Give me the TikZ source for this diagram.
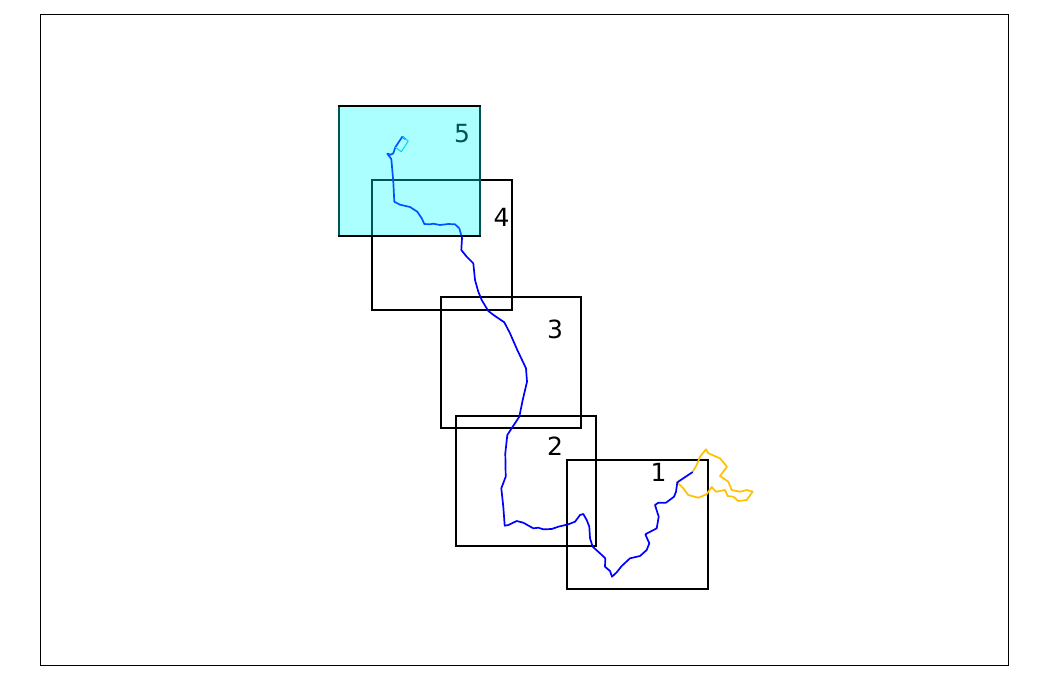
\documentclass[tikz,border=0pt]{standalone}
\usepackage{fontspec}
\setmainfont{DejaVu Sans}
\definecolor{routeblue}{RGB}{0,0,255}
\definecolor{routeyellow}{RGB}{255,192,0}
\definecolor{purecyan}{RGB}{0,255,255}
\definecolor{outlinecyan}{RGB}{0,190,255}
\tikzset{
  sheet/.style={draw=black,line width=2pt,rectangle,minimum width=#1,inner sep=0pt,outer sep=0pt},
  sheetlabel/.style={font=\fontsize{25}{25}\selectfont,text=black,inner sep=0pt},
  route/.style={line width=1.7pt,line join=round,line cap=round},
}
\begin{document}
\begin{tikzpicture}[x=1pt,y=-1pt]
\useasboundingbox (0,0) rectangle (1051,675);
\fill[white] (0,0) rectangle (1051,675);
\node[draw=black,line width=.8pt,minimum width=968.5pt,minimum height=650.5pt,inner sep=0pt,outer sep=0pt] (frame) at (524.25,339.75) {};
% sheets
\node[sheet=140.5pt,minimum height=130.5pt] (s5) at (409.5,171.2) {};
\node[sheet=140pt,minimum height=129.5pt] (s4) at (442.2,245) {};
\node[sheet=140.5pt,minimum height=130.5pt] (s3) at (511,362.5) {};
\node[sheet=140pt,minimum height=130pt] (s2) at (526.2,481.2) {};
\node[sheet=140.5pt,minimum height=129.5pt] (s1) at (637.5,524.5) {};
% labels
\node[sheetlabel] (l5) at (462,133.5) {5};
\node[sheetlabel] (l4) at (501.5,217.5) {4};
\node[sheetlabel] (l3) at (555,329.5) {3};
\node[sheetlabel] (l2) at (555,446.5) {2};
\node[sheetlabel] (l1) at (658.5,472.5) {1};
% yellow route
\draw[route,routeyellow] (677.3,482.3) -- (683.3,488.3) -- (688.3,495) -- (698.3,497.7) -- (706.7,494.3) -- (708.3,491.7) -- (711.7,487) -- (716,491.7) -- (725,490) -- (727.7,496) -- (733.3,496.7) -- (738.3,501) -- (746.7,500) -- (752.7,491.7) -- (746.7,490) -- (740,491.7) -- (731.7,490) -- (728.3,481.7) -- (720,476) -- (727,466.7) -- (720,458.3) -- (708.3,453.3) -- (706,449.3) -- (700,456.7) -- (696.7,465) -- (692.3,472.3);
% blue route
\draw[route,routeblue] (405.3,139) -- (402.3,136.7) -- (395.3,147.3) -- (393.3,153.3) -- (390.7,154.7) -- (387.3,153.7) -- (391.3,159) -- (392,166.7) -- (393.3,181.7) -- (394.3,201.7) -- (400,204.7) -- (410,207) -- (417.3,211.7) -- (421.7,218.3) -- (424.3,224) -- (430,224.3) -- (433.3,223.7) -- (440,225) -- (448.3,224) -- (455,224.3) -- (459.3,228.3) -- (461.7,236.7) -- (462,238.3) -- (461.3,250) -- (466.7,256.7) -- (473.3,263.3) -- (475,280) -- (478.3,291.7) -- (481.7,300) -- (488.3,311) -- (495,316) -- (504.3,322.3) -- (510,333.3) -- (517.3,350) -- (526,368.3) -- (527,381.7) -- (522.7,400) -- (519.3,416.7) -- (512.7,426.7) -- (507.3,435) -- (505.3,453.3) -- (505.7,476.7) -- (501.3,488.3) -- (503.3,506.7) -- (504.7,525.7) -- (508.3,525) -- (516.7,521) -- (523.3,522.7) -- (533.3,528.3) -- (538.3,527.7) -- (543.3,529.3) -- (551.7,529) -- (558.3,526.7) -- (568.3,524.3) -- (575,521.7) -- (580,515) -- (583.3,514) -- (586.7,520) -- (589.3,526.7) -- (590,538.3) -- (592.7,546.7) -- (600,553.3) -- (605.3,558.3) -- (605,566.7) -- (610,571) -- (612,576.7) -- (616.7,572.3) -- (621.7,566) -- (630,558.3) -- (640,556) -- (646.7,550) -- (649.3,543.3) -- (645.3,534.3) -- (656.7,528.3) -- (658.7,516.7) -- (655,505) -- (658.3,502.7) -- (666,502.7) -- (674,496.7) -- (676,491.7) -- (677.3,482.3) -- (683.3,478.3) -- (692.3,472.3);
% small outline
\draw[line width=1pt,outlinecyan,line join=round] (402.3,136.7) -- (408.3,141) -- (401.3,151.7) -- (395.3,147.3);
% translucent sheet 5 fill
\fill[purecyan,opacity=.33] ([shift={(-1pt,-1pt)}]s5.north west) rectangle ([shift={(1pt,1pt)}]s5.south east);
\end{tikzpicture}
\end{document}
